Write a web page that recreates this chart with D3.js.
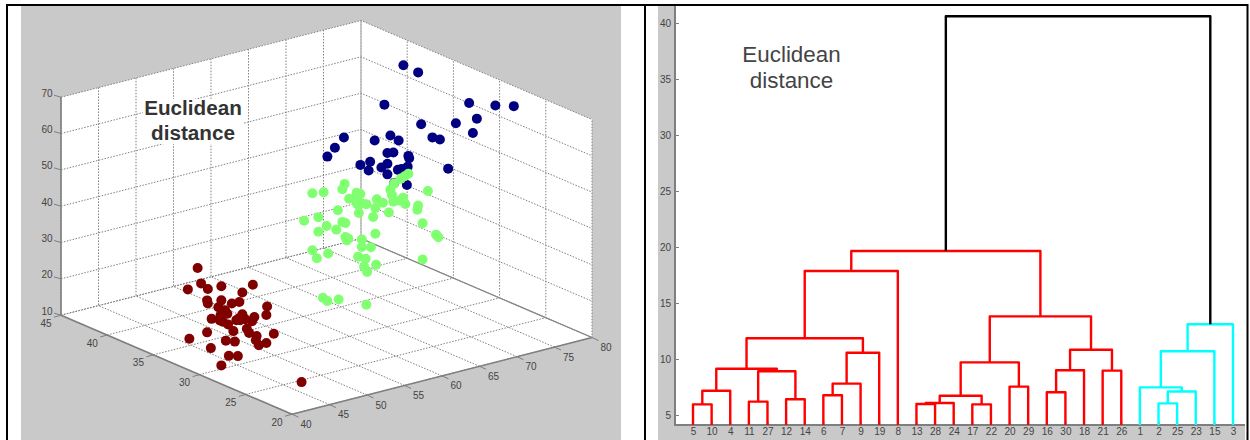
<!DOCTYPE html>
<html>
<head>
<meta charset="utf-8">
<script src="https://cdn.jsdelivr.net/npm/d3@7"></script>
<style>
  body { margin: 0; background: #fff; }
  svg { display: block; }
  text { font-family: "Liberation Sans", Arial, sans-serif; }
</style>
</head>
<body>
<script>
// scatter values [x, y, z]; depth cannot be read from a flat picture so y is estimated
var bluePoints = [
  [75.8,37,68.6],[75.3,35,69.1],[70.8,35,62.6],[78.4,32,62.3],[78.2,29,65.0],[78.2,27,67.0],
  [78.2,31,59.2],[79.1,34,54.2],[78.9,32,53.8],[75.7,35,54.6],[77.2,35,50.2],[78.2,35,49.1],
  [65.4,35,56.4],[64.2,35,54.2],[63.2,35,52.3],[69.5,35,53.4],[71.6,35,53.7],[72.7,35,51.7],
  [71.2,35,49.1],[72.0,35,48.8],[74.0,35,46.8],[74.1,35,46.1],[68.9,35,47.9],[67.6,35,47.7],
  [68.7,35,45.6],[71.2,35,46.1],[70.4,35,45.5],[73.9,35,43.9],[71.2,35,43.2],[72.6,35,43.7],
  [73.1,35,43.7],[79.3,35,40.5],[73.8,35,38.9],[72.1,35,40.3]
]
var greenPoints = [
  [61.8,32,48.8],[61.5,32,47.5],[57.5,32,48.5],[59.0,32,48.0],[63.4,32,45.5],[63.9,32,44.9],
  [62.4,32,44.4],[63.2,32,43.7],[63.5,32,42.3],[64.1,32,42.2],[64.7,32,41.7],[66.1,32,42.3],
  [66.9,32,40.9],[65.9,32,40.0],[60.9,32,42.0],[63.7,32,39.8],[65.6,32,37.7],[67.7,32,37.8],
  [56.4,32,41.5],[58.3,32,41.5],[59.4,32,38.5],[58.3,32,37.5],[60.7,32,36.8],[61.5,32,38.5],
  [61.9,32,38.0],[61.9,32,34.1],[62.3,32,33.5],[62.1,32,33.1],[65.9,32,32.9],[64.1,32,32.3],
  [64.1,32,30.2],[65.3,32,29.5],[57.5,32,32.8],[58.1,32,30.3],[59.6,32,30.8],[63.6,32,27.8],
  [64.6,32,26.7],[66.0,32,24.3],[64.4,32,24.6],[64.8,32,23.0],[72.2,32,22.5],[58.9,32,19.0],
  [59.5,32,17.8],[61.0,32,17.4],[64.7,32,14.0],[70.3,32,47.1],[69.8,32,46.7],[69.3,32,46.3],
  [68.4,32,45.4],[67.9,32,44.0],[68.1,32,42.5],[68.3,32,40.5],[69.6,32,40.9],[69.2,32,40.3],
  [69.9,32,39.0],[71.6,32,37.7],[71.5,32,36.6],[72.9,32,41.0],[72.2,32,32.5],[74.0,32,28.4],
  [74.3,32,27.5]
]
var redPoints = [
  [42.2,32,36.0],[40.9,32,30.8],[40.2,30,35.0],[41.1,30,33.0],[42.9,30,32.8],[47.1,30,31.0],
  [45.7,30,29.6],[41.0,30,29.9],[41.1,30,29.0],[42.9,30,28.9],[44.3,30,27.3],[45.3,30,27.2],
  [42.5,30,27.2],[49.0,30,24.0],[48.9,30,21.7],[43.7,30,24.8],[42.8,30,24.9],[41.6,30,24.5],
  [42.7,30,23.5],[43.1,30,22.9],[43.8,30,21.8],[44.9,30,22.4],[45.2,30,22.7],[45.7,30,23.6],
  [46.1,30,22.0],[47.3,30,22.0],[47.0,30,21.0],[46.3,30,19.3],[46.6,30,18.0],[47.6,30,16.6],
  [47.5,30,15.5],[47.9,30,13.9],[48.9,30,14.0],[49.9,30,16.0],[44.5,30,19.6],[41.0,30,21.1],
  [41.1,32,17.1],[43.5,30,17.5],[44.7,30,16.6],[41.5,30,16.5],[43.9,30,13.1],[45.1,30,12.4],
  [42.9,30,11.0],[46.2,24,11.2],[45.4,30,22.1],[43.4,30,25.9]
]
var xTicks3d = [40,45,50,55,60,65,70,75,80]
var yTicks3d = [20,25,30,35,40,45]
var zTicks3d = [10,20,30,40,50,60,70]

// dendrogram: leaf order along the axis, then merges [child, child, height]
// children above 30 are earlier merges, numbered from 31 like matlab linkage
var leafOrder = [5,10,4,11,27,12,14,6,7,9,19,8,13,28,24,17,22,20,29,16,30,18,21,26,1,2,25,23,15,3]
var merges = [
  [5,10,5.95],[31,4,7.17],[11,27,6.19],[12,14,6.4],[33,34,8.9],[32,35,9.13],
  [6,7,6.76],[37,9,7.8],[38,19,10.56],[36,39,11.85],[40,8,17.86],
  [13,28,5.98],[42,24,6.07],[17,22,5.95],[43,44,6.72],[20,29,7.53],[45,46,9.7],
  [16,30,7.03],[48,18,8.99],[21,26,8.96],[49,50,10.83],[47,51,13.81],[41,52,19.64],
  [2,25,6.04],[54,23,7.1],[1,55,7.47],[56,15,10.69],[57,3,13.1],[53,58,40.6]
]
var heightTicks = [5,10,15,20,25,30,35,40]

var svg = d3.select("body").append("svg").attr("width", 1250).attr("height", 440)

// PANEL BACKGROUNDS
var gray = "#c9c9c9", axisGray = "#7f7f7f", labelColor = "#444"
svg.append("rect").attr("x",21).attr("y",5).attr("width",600).attr("height",435).attr("fill",gray)
svg.append("rect").attr("x",658).attr("y",5).attr("width",16).attr("height",435).attr("fill",gray)
svg.append("rect").attr("x",658).attr("y",425).attr("width",587).attr("height",15).attr("fill",gray)

// 3D SCATTER, orthographic view built from one scale per axis and screen direction
var xToPx = d3.scaleLinear().domain([40,80]).range([0,300])
var xToPy = d3.scaleLinear().domain([40,80]).range([0,-76.7])
var yToPx = d3.scaleLinear().domain([20,45]).range([0,-231])
var yToPy = d3.scaleLinear().domain([20,45]).range([0,-99])
var zToPy = d3.scaleLinear().domain([10,70]).range([0,-218])
function px(p){ return 292 + xToPx(p[0]) + yToPx(p[1]) }
function py(p){ return 414.2 + xToPy(p[0]) + yToPy(p[1]) + zToPy(p[2]) }
var line3d = d3.line().x(px).y(py)

var scatter = svg.append("g")
var walls = [
  [[40,45,10],[80,45,10],[80,45,70],[40,45,70]],
  [[80,45,10],[80,20,10],[80,20,70],[80,45,70]],
  [[40,20,10],[80,20,10],[80,45,10],[40,45,10]]
]
scatter.selectAll("path.wall").data(walls).enter().append("path")
  .attr("class","wall").attr("fill","#fff").attr("d", d => line3d(d) + "Z")

// grid lines: each tick runs across the two faces it touches
var grid = []
xTicks3d.forEach(x => grid.push([[x,20,10],[x,45,10],[x,45,70]]))
yTicks3d.forEach(y => grid.push([[40,y,10],[80,y,10],[80,y,70]]))
zTicks3d.forEach(z => grid.push([[40,45,z],[80,45,z],[80,20,z]]))
scatter.selectAll("path.grid").data(grid).enter().append("path")
  .attr("class","grid").attr("fill","none").attr("stroke","#808080")
  .attr("stroke-width",1).attr("stroke-dasharray","1.5 1.5").attr("d", line3d)

// box edges that read as solid
var edges = [
  [[40,20,10],[80,20,10]],[[40,20,10],[40,45,10]],[[40,45,10],[40,45,70]]
]
scatter.selectAll("path.edge").data(edges).enter().append("path")
  .attr("class","edge").attr("fill","none").attr("stroke",axisGray)
  .attr("stroke-width",1.6).attr("d", line3d)
scatter.append("path").attr("fill","none").attr("stroke","#8a8a8a").attr("stroke-width",1.2)
  .attr("d", line3d([[80,45,10],[80,20,10]]))

// tick marks and labels
function tick3d(list, base, dx, dy, lx, ly){
  list.forEach(v => {
    var p = base(v)
    scatter.append("line").attr("x1",px(p)).attr("y1",py(p)).attr("x2",px(p)+dx).attr("y2",py(p)+dy)
      .attr("stroke",axisGray).attr("stroke-width",1)
    scatter.append("text").attr("x",px(p)+lx).attr("y",py(p)+ly).attr("text-anchor","middle")
      .attr("font-size",10).attr("fill",labelColor).text(v)
  })
}
tick3d(zTicks3d, v => [40,45,v], -7, -2, -14, -0.5)
tick3d(yTicks3d, v => [40,v,10], -7, 2, -15, 11.5)
tick3d(xTicks3d, v => [v,20,10], 6.5, 3, 14, 13.5)

// dots, blue first because green covers it
var seriesList = [
  {pts: bluePoints, color: "#000080"},
  {pts: greenPoints, color: "#80ff70"},
  {pts: redPoints, color: "#800000"}
]
seriesList.forEach(s => {
  scatter.append("g").selectAll("circle").data(s.pts).enter().append("circle")
    .attr("cx", px).attr("cy", py).attr("r", 5).attr("fill", s.color)
})

// caption sits on its own white patch, the grid stops behind it
scatter.append("rect").attr("x",143).attr("y",99).attr("width",100).attr("height",45).attr("fill","#fff")
scatter.append("text").attr("x",193).attr("y",115).attr("text-anchor","middle")
  .attr("font-size",20.7).attr("font-weight","bold").attr("fill","#333").text("Euclidean")
scatter.append("text").attr("x",193).attr("y",139.5).attr("text-anchor","middle")
  .attr("font-size",20.7).attr("font-weight","bold").attr("fill","#333").text("distance")

// DENDROGRAM
var xLeaf = d3.scalePoint().domain(leafOrder).range([693,1233])
var yHeight = d3.scaleLinear().domain([5,40]).range([415,23])
var dendro = svg.append("g")

dendro.append("g").attr("transform","translate(0,425)")
  .call(d3.axisBottom(xLeaf).tickSize(-4).tickPadding(3))
  .call(g => g.select(".domain").attr("d","M674,0H1245").attr("stroke",axisGray).attr("stroke-width",2))
  .call(g => g.selectAll("line").attr("stroke",axisGray))
  .call(g => g.selectAll("text").attr("font-size",10).attr("fill",labelColor)
    .attr("font-family","Liberation Sans"))
dendro.append("g").attr("transform","translate(675,0)")
  .call(d3.axisLeft(yHeight).tickValues(heightTicks).tickSize(-4).tickPadding(4))
  .call(g => g.select(".domain").attr("d","M0,6V425").attr("stroke",axisGray).attr("stroke-width",2))
  .call(g => g.selectAll("line").attr("stroke",axisGray))
  .call(g => g.selectAll("text").attr("font-size",10).attr("fill",labelColor)
    .attr("font-family","Liberation Sans"))

// resolve merges into x position and colour
var nodeX = {}, nodeH = {}, nodeColor = {}
leafOrder.forEach(l => { nodeX[l] = xLeaf(l); nodeH[l] = null })
merges.forEach((m,i) => {
  nodeX[31+i] = (nodeX[m[0]] + nodeX[m[1]]) / 2
  nodeH[31+i] = m[2]
})
function paint(id, color){
  nodeColor[id] = color
  if (id > 30) merges[id-31].slice(0,2).forEach(c => paint(c, color))
}
paint(59, "#000000")
paint(53, "#ff0000")
paint(58, "#00ffff")

function nodeY(id){ return nodeH[id] === null ? 425 : yHeight(nodeH[id]) }
dendro.selectAll("path.link").data(merges).enter().append("path")
  .attr("class","link").attr("fill","none").attr("stroke-width",2.4).attr("stroke-linejoin","round")
  .attr("stroke", (d,i) => nodeColor[31+i])
  .attr("d", d => "M" + nodeX[d[0]] + "," + nodeY(d[0]) + "V" + yHeight(d[2]) +
                  "H" + nodeX[d[1]] + "V" + nodeY(d[1]))

dendro.append("text").attr("x",791.5).attr("y",62).attr("text-anchor","middle")
  .attr("font-size",22.4).attr("fill","#444").text("Euclidean")
dendro.append("text").attr("x",791.5).attr("y",88.3).attr("text-anchor","middle")
  .attr("font-size",22.4).attr("fill","#444").text("distance")

// FRAME drawn last, the panels hang from it
var frame = svg.append("g").attr("stroke","#000").attr("stroke-width",2)
frame.append("line").attr("x1",6).attr("x2",1248).attr("y1",5).attr("y2",5)
frame.append("line").attr("x1",7).attr("x2",7).attr("y1",4).attr("y2",440)
frame.append("line").attr("x1",645).attr("x2",645).attr("y1",4).attr("y2",440)
frame.append("line").attr("x1",1247.5).attr("x2",1247.5).attr("y1",4).attr("y2",440)
</script>
</body>
</html>
